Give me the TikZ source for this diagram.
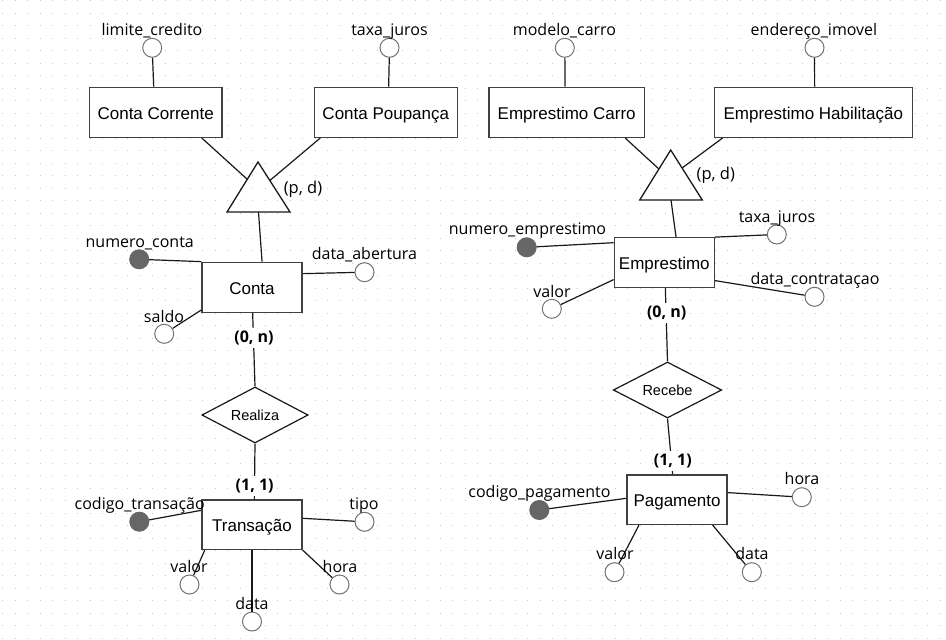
\documentclass[tikz,border=0pt]{standalone}
\usepackage{fontspec}
\setmainfont{Liberation Sans}
\newfontfamily\attrfont{Open Sans}
\usetikzlibrary{shapes.geometric,calc}
\definecolor{gridc}{HTML}{C8C8C8}
\begin{document}
\begin{tikzpicture}[x=1pt,y=-1pt,
 ent/.style={draw=black!75, line width=1.3pt, fill=white, minimum width=100pt, minimum height=50pt, inner sep=0pt, text height=14pt, text depth=0pt, font=\fontsize{17}{20}\selectfont},
 rel/.style={diamond, draw=black!90, line width=1.2pt, fill=white, aspect=2, inner sep=0pt, text height=11.4pt, text depth=0pt, font=\fontsize{14.5}{17}\selectfont},
 att/.style={circle, draw=black!55, line width=1pt, fill=white, minimum size=19pt, inner sep=0pt},
 key/.style={att, fill=black!60, draw=black!60},
 lbl/.style={anchor=base, inner sep=0pt, font=\attrfont\fontsize{16}{19}\selectfont, text=black},
 card/.style={anchor=base, inner xsep=1pt, inner ysep=3pt, fill=white, font=\attrfont\bfseries\fontsize{16}{19}\selectfont},
 con/.style={draw=black!90, line width=1.2pt},
]
\fill[white] (0,0) rectangle (946,640);
\useasboundingbox (0,0) rectangle (946,640);
\foreach \k in {0,...,51} {
  \draw[gridc, line width=1.2pt, dash pattern=on 1.2pt off 11.3pt] (2.1,{0.8+12.5*\k}) -- (946,{0.8+12.5*\k});
}

% entities
\node[ent, minimum width=132.7pt] (cc) at (155.7,112.3) {Conta Corrente};
\node[ent, minimum width=143pt] (cp) at (385.8,112.3) {Conta Poupança};
\node[ent, minimum width=155.3pt] (ec) at (566.7,112.3) {Emprestimo Carro};
\node[ent, minimum width=198pt] (eh) at (813.3,112.3) {Emprestimo Habilitação};
\node[ent] (conta) at (252,287.3) {Conta};
\node[ent, minimum height=49.5pt] (trans) at (252,524.7) {Transação};
\node[ent, minimum height=49.5pt] (emp) at (664.3,262.5) {Emprestimo};
\node[ent, minimum height=49.5pt] (pag) at (677,499.7) {Pagamento};

% relationships
\node[rel, minimum width=106.3pt, minimum height=56pt] (realiza) at (255,415) {Realiza};
\node[rel, minimum width=108.4pt, minimum height=56pt] (recebe) at (667.5,390) {Recebe};

% specialization triangles
\coordinate (t1a) at (258,162); \coordinate (t1l) at (227,212); \coordinate (t1r) at (290,212);
\coordinate (t1b) at ($(t1l)!0.5!(t1r)$);
\draw[con, line width=1.3pt, line join=miter] (t1a) -- (t1l) -- (t1r) -- cycle;
\coordinate (t2a) at (670.7,150); \coordinate (t2l) at (639.7,200); \coordinate (t2r) at (702.3,200);
\coordinate (t2b) at ($(t2l)!0.5!(t2r)$);
\draw[con, line width=1.3pt, line join=miter] (t2a) -- (t2l) -- (t2r) -- cycle;
\node[lbl, font=\attrfont\fontsize{16.5}{19}\selectfont] (pd1) at (303,193) {(p, d)};
\node[lbl, font=\attrfont\fontsize{16.5}{19}\selectfont] (pd2) at (715.8,179) {(p, d)};

% attribute circles
\node[att] (lc) at (152.2,47.8) {};
\node[att] (tjc) at (389.5,47.8) {};
\node[att] (mc) at (564.8,47.8) {};
\node[att] (ei) at (814.5,47.8) {};
\node[key] (nc) at (139.2,259.3) {};
\node[att] (dac) at (364.5,272.2) {};
\node[att] (sc) at (164.2,333.8) {};
\node[key] (ctc) at (139.3,521.7) {};
\node[att] (tpc) at (364.5,521.8) {};
\node[att] (vtc) at (189.5,584.5) {};
\node[att] (htc) at (339.5,584.5) {};
\node[att] (dtc) at (252,621.5) {};
\node[key] (nec) at (526.7,247.3) {};
\node[att] (tjec) at (776.8,234.5) {};
\node[att] (vec) at (551.8,308.8) {};
\node[att] (dcc) at (814.5,296.8) {};
\node[key] (cpc) at (539.3,510) {};
\node[att] (hpc) at (801.8,497.2) {};
\node[att] (vpc) at (614.5,572.2) {};
\node[att] (dpc) at (751.8,572.2) {};

% connectors
\draw[con] (lc) -- ($(cc.north west)+(65,0)$);
\draw[con] (tjc) -- ($(cp.north west)+(75,0)$);
\draw[con] (mc) -- ($(ec.north west)+(76.7,0)$);
\draw[con] (ei) -- ($(eh.north west)+(101,0)$);
\draw[con] ($(cc.south west)+(113,0)$) -- ($(t1a)!0.346!(t1l)$);
\draw[con] ($(cp.south west)+(6.7,0)$) -- ($(t1a)!0.37!(t1r)$);
\draw[con] (t1b) -- ($(conta.north west)+(60.7,0)$);
\draw[con] ($(ec.south west)+(136.7,0)$) -- ($(t2a)!0.38!(t2l)$);
\draw[con] ($(eh.south west)+(9,0)$) -- ($(t2a)!0.36!(t2r)$);
\draw[con] (t2b) -- ($(emp.north west)+(62.4,0)$);

\draw[con] (nc) -- (conta.north west);
\draw[con] ($(conta.north east)+(0,12)$) -- (dac);
\draw[con] ($(conta.south west)+(0,-3)$) -- (sc);
\draw[con] ($(conta.south west)+(51.3,0)$) -- (realiza.north);
\draw[con] (realiza.south) -- ($(trans.north west)+(53,0)$);

\draw[con] (ctc) -- ($(trans.north west)+(0,11)$);
\draw[con] ($(trans.north east)+(0,19)$) -- (tpc);
\draw[con] ($(trans.south west)+(3.4,0)$) -- (vtc);
\draw[con] (trans.south east) -- (htc);
\draw[con] (trans.south) -- (dtc);

\draw[con] (nec) -- ($(emp.north west)+(0,5.6)$);
\draw[con] (emp.north east) -- (tjec);
\draw[con] ($(emp.south west)+(0,-8.3)$) -- (vec);
\draw[con] ($(emp.south east)+(0,-7.3)$) -- (dcc);
\draw[con] ($(emp.south west)+(51.7,0)$) -- (recebe.north);
\draw[con] (recebe.south) -- ($(pag.north west)+(46.3,0)$);

\draw[con] (cpc) -- ($(pag.north west)+(0,24)$);
\draw[con] ($(pag.north east)+(0,18.3)$) -- (hpc);
\draw[con] ($(pag.south west)+(12.6,0)$) -- (vpc);
\draw[con] ($(pag.south east)+(-15,0)$) -- (dpc);

% cardinalities
\node[card] (k1) at (254,342.5) {(0, n)};
\node[card] (k2) at (254.7,490.7) {(1, 1)};
\node[card] (k3) at (666.7,317.7) {(0, n)};
\node[card] (k4) at (672.8,465.7) {(1, 1)};

% attribute labels
\node[lbl] (lcl) at (152,35) {limite\_credito};
\node[lbl] (tjl) at (389.5,35) {taxa\_juros};
\node[lbl] (mcl) at (564.5,35) {modelo\_carro};
\node[lbl] (eil) at (814,35) {endereço\_imovel};
\node[lbl] (ncl) at (139.7,247.5) {numero\_conta};
\node[lbl] (dal) at (364.5,259.3) {data\_abertura};
\node[lbl] (scl) at (164,322.7) {saldo};
\node[lbl] (ctl) at (139.7,509.3) {codigo\_transação};
\node[lbl] (tpl) at (364,509.3) {tipo};
\node[lbl] (vtl) at (189,572.3) {valor};
\node[lbl] (htl) at (340,572.3) {hora};
\node[lbl] (dtl) at (252,609.3) {data};
\node[lbl] (nel) at (527.5,234.3) {numero\_emprestimo};
\node[lbl] (tjel) at (777,222) {taxa\_juros};
\node[lbl] (vel) at (552,297.3) {valor};
\node[lbl] (dcl) at (815,284.3) {data\_contrataçao};
\node[lbl] (cpl) at (539.5,497.3) {codigo\_pagamento};
\node[lbl] (hpl) at (802,484.3) {hora};
\node[lbl] (vpl) at (615,559.3) {valor};
\node[lbl] (dpl) at (752,559.3) {data};
\end{tikzpicture}
\end{document}
